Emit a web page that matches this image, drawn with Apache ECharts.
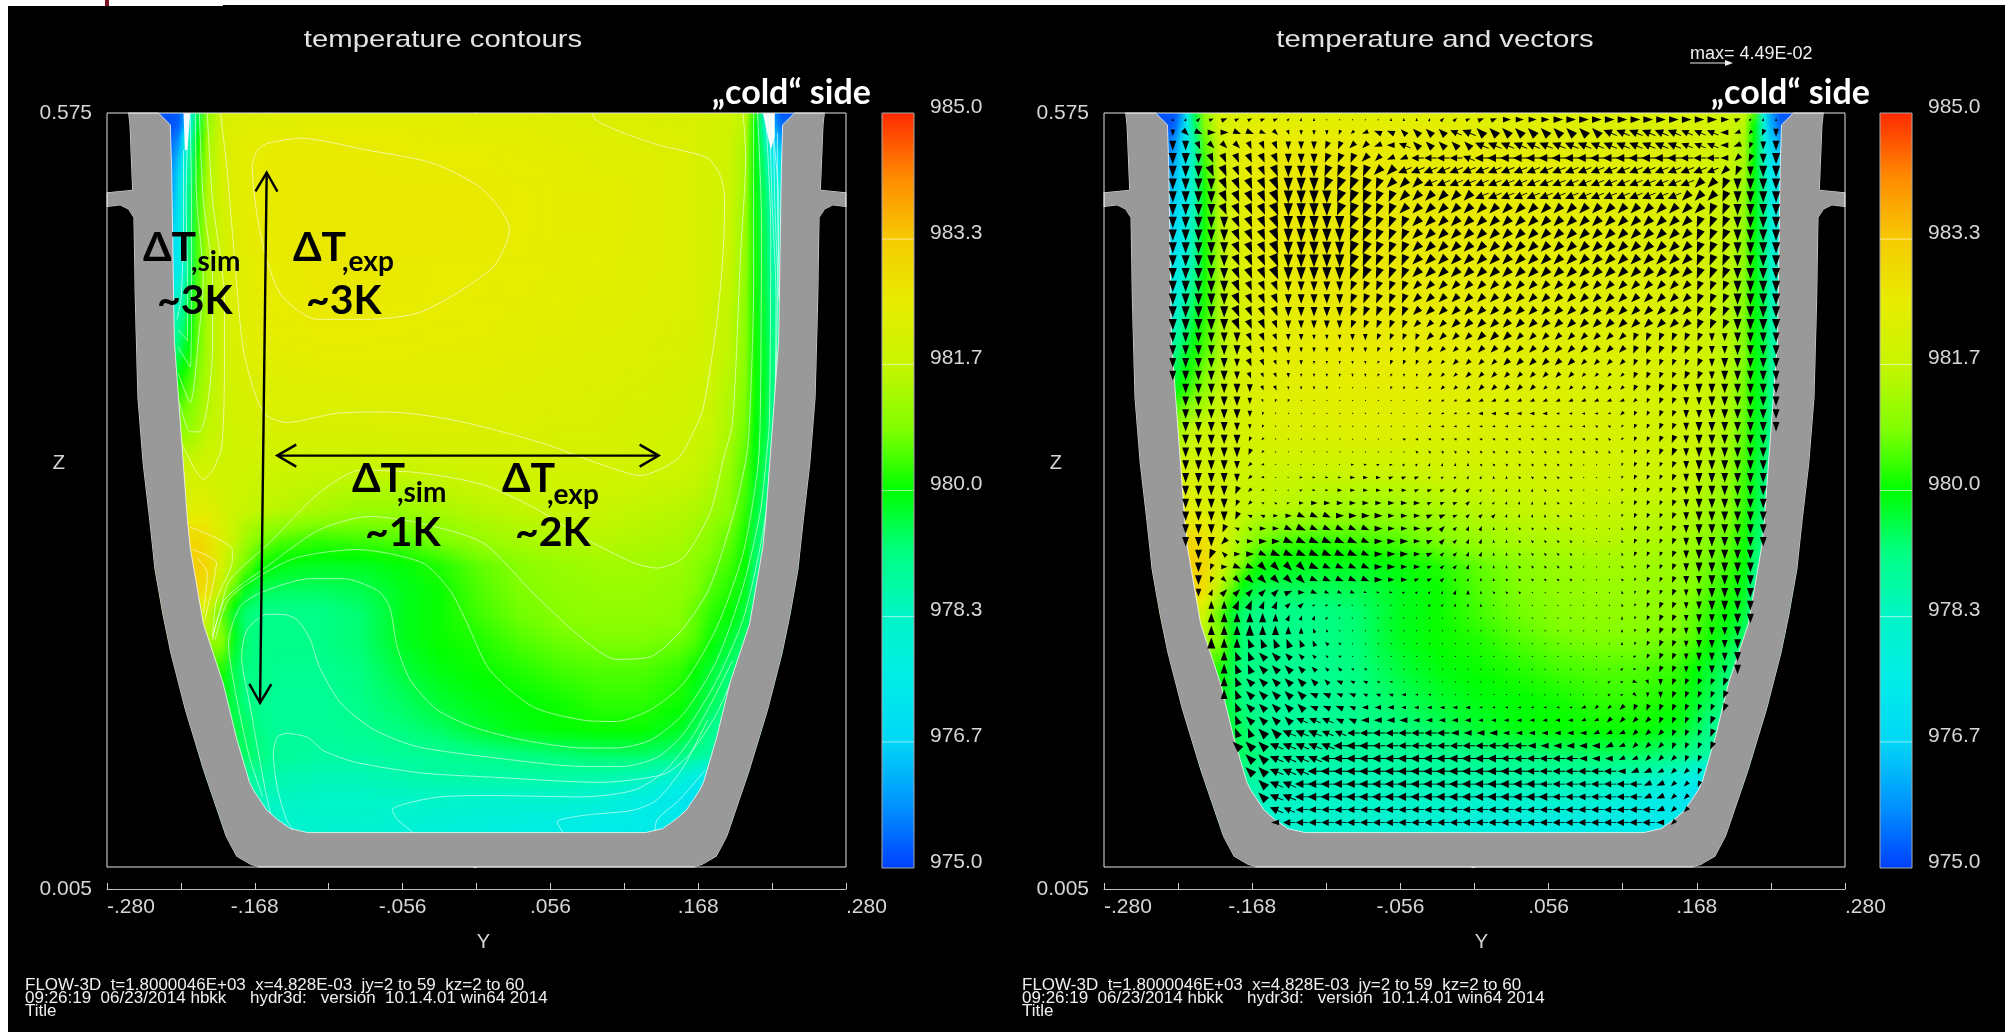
<!DOCTYPE html>
<html><head><meta charset="utf-8"><style>html,body{margin:0;padding:0;background:#fff;overflow:hidden}#c{width:2005px;height:1032px}</style>
<script src="https://cdn.jsdelivr.net/npm/echarts@6/dist/echarts.min.js"></script></head><body><div id="c"></div>
<script>
// colour scale
const barTicks=[975,976.67,978.33,980,981.67,983.33,985];
const tempLevels=[975,975.8,976.7,977.5,978.3,979.2,980,980.8,981.7,982.5,983.3,984.15,985];
const tempColors=['#0040ff','#0090ff','#00d8f5','#00ece8','#00f5c8','#00ff80','#00ff00','#80ff00','#c8f500','#e8ec00','#f6cc00','#ff8a00','#ff2a00'];
// temperature samples (value = T-975) at Y columns and Z rows
const T_BASE=975;
const tempY=[-.231,-.226,-.222,-.217,-.211,-.204,-.193,-.183,-.175,-.164,-.149,-.119,-.088,-.058,-.028,.003,.033,.063,.094,.124,.154,.166,.177,.192,.204,.211,.219,.224,.231];
const tempZ=[.575,.566,.555,.540,.517,.487,.456,.426,.396,.366,.335,.305,.275,.252,.233,.214,.196,.177,.154,.131,.109,.090,.071,.056,.041,.029];
const tempUpperLeft=[
[.2,.3,.8,2.5,4.5,6,7,7.1,7.2,7.2,7.3,7.3,7.3,7.3,7.3,7.3,7.3,7.2,7.2,7.2,7.1,7.1,7,6.9,6.6,5.2,2,1,.2],
[.2,.3,1,3,4.7,6,7,7.2,7.3,7.3,7.3,7.4,7.4,7.4,7.4,7.3,7.3,7.3,7.2,7.2,7.1,7.1,7,6.9,6.5,5,3,1.2,.5],
[.4,.8,2,3.5,5,6.2,7,7.3,7.4,7.4,7.5,7.5,7.5,7.5,7.4,7.4,7.4,7.3,7.3,7.2,7.2,7.1,7,6.8,6.4,5,3.6,2,1],
[.7,1.4,2.6,4,5.2,6.3,7,7.3,7.4,7.5,7.55,7.55,7.55,7.5,7.5,7.5,7.4,7.4,7.3,7.3,7.2,7.1,7,6.8,6.3,5,4,2.6,2],
[1,2,3,4.3,5.4,6.4,7,7.3,7.4,7.5,7.55,7.6,7.6,7.6,7.55,7.55,7.5,7.4,7.4,7.3,7.2,7.1,7,6.8,6.2,5,4.3,3.3,3],
[1.6,2.3,3.2,4.4,5.5,6.4,6.9,7.2,7.4,7.5,7.55,7.6,7.6,7.6,7.6,7.55,7.5,7.4,7.4,7.3,7.2,7.1,7,6.7,6.1,5.1,4.4,3.6,3.4],
[2,2.5,3.3,4.4,5.5,6.3,6.9,7.2,7.35,7.45,7.5,7.6,7.6,7.55,7.5,7.5,7.45,7.4,7.35,7.3,7.2,7.1,7,6.7,6,5.1,4.5,3.8,3.6],
[3.2,3.6,4.1,4.8,5.6,6.3,6.9,7.2,7.3,7.4,7.5,7.55,7.55,7.5,7.5,7.45,7.4,7.35,7.3,7.25,7.15,7.1,6.9,6.6,5.9,5.1,4.6,4,3.8],
[4.1,4.4,4.7,5.1,5.7,6.3,6.8,7.1,7.25,7.35,7.4,7.45,7.45,7.45,7.4,7.4,7.35,7.3,7.25,7.2,7.1,7.05,6.9,6.6,5.9,5.1,4.7,4.2,4],
[5,5.2,5.4,5.6,6,6.4,6.8,7,7.1,7.15,7.2,7.25,7.3,7.3,7.3,7.3,7.25,7.2,7.15,7.1,7,6.9,6.8,6.4,5.8,5.1,4.7,4.2,4],
[5.8,5.9,6,6.1,6.3,6.6,6.8,6.9,7,7,7.1,7.1,7.1,7.15,7.15,7.15,7.15,7.1,7.1,7,6.9,6.8,6.7,6.3,5.7,5,4.6,4,3.8],
[6.5,6.6,6.8,6.9,6.9,6.9,6.85,6.85,6.85,6.8,6.8,6.75,6.7,6.7,6.8,6.9,6.95,6.95,6.95,6.9,6.8,6.7,6.5,6.1,5.5,4.9,4.4,3.8,3.6],
[7.3,7.3,7.3,7.3,7.3,7.3,7,6.8,6.7,6.6,6.5,6.3,6.1,6.1,6.3,6.5,6.6,6.7,6.7,6.6,6.5,6.4,6.2,5.9,5.3,4.7,4.2,3.6,3.4]];
const tempUpperRight=[
[.2,.3,.8,2.5,4.6,6,7,7.1,7.2,7.3,7.3,7.3,7.3,7.3,7.3,7.3,7.3,7.2,7.2,7.2,7.1,7.1,7,6.9,6.7,5.6,2.6,1,.2],
[.2,.4,1.2,2.6,4.4,5.9,7,7.2,7.3,7.4,7.4,7.4,7.4,7.4,7.4,7.3,7.3,7.3,7.2,7.2,7.1,7.1,7,6.9,6.5,5,2.8,1.2,.4],
[.5,.9,1.6,2.5,4,5.6,6.9,7.3,7.4,7.5,7.5,7.5,7.5,7.5,7.4,7.4,7.4,7.3,7.3,7.2,7.2,7.1,7,6.8,6.3,5,2.8,1.6,1],
[.8,1.2,1.8,2.5,3.8,5.4,6.8,7.3,7.4,7.5,7.6,7.6,7.6,7.5,7.5,7.5,7.4,7.4,7.3,7.3,7.2,7.1,7,6.8,6.3,5,3.2,2.2,1.8],
[1.2,1.6,2,2.6,3.6,5.1,6.6,7.2,7.4,7.5,7.6,7.6,7.6,7.6,7.55,7.55,7.5,7.4,7.4,7.3,7.2,7.1,7,6.7,6.1,5,3.8,2.6,2.4],
[1.6,1.9,2.3,2.8,3.8,5.1,6.4,7.1,7.3,7.5,7.6,7.6,7.6,7.6,7.6,7.55,7.5,7.4,7.4,7.3,7.2,7.1,7,6.7,6,5,4.1,3,2.8],
[2.1,2.4,2.8,3.3,4.1,5.1,6.3,7,7.2,7.4,7.5,7.6,7.6,7.6,7.5,7.5,7.45,7.4,7.35,7.3,7.2,7.1,7,6.6,5.9,5,4.3,3.3,3.1],
[2.8,3.1,3.5,4,4.6,5.2,6.3,6.9,7.1,7.3,7.4,7.55,7.6,7.55,7.5,7.45,7.4,7.35,7.3,7.25,7.15,7.05,6.9,6.5,5.8,5,4.5,3.6,3.4],
[3.8,4.1,4.4,4.7,5.1,5.5,6.3,6.8,7.1,7.3,7.4,7.5,7.55,7.5,7.45,7.4,7.35,7.3,7.25,7.2,7.1,7,6.9,6.5,5.8,5,4.6,3.9,3.7],
[4.8,4.9,5.1,5.3,5.6,6,6.6,6.9,7.1,7.2,7.3,7.35,7.4,7.4,7.35,7.3,7.25,7.2,7.15,7.1,7,6.9,6.8,6.4,5.7,5,4.6,4,3.8],
[6,6.1,6.3,6.5,6.7,6.8,6.9,7,7.05,7.1,7.15,7.2,7.25,7.25,7.2,7.15,7.15,7.1,7.1,7,6.9,6.8,6.7,6.3,5.6,4.9,4.5,3.9,3.7],
[6.9,6.9,7,7,7,6.95,6.9,6.9,6.85,6.8,6.8,6.75,6.8,6.8,6.85,6.9,6.95,6.95,6.95,6.9,6.8,6.7,6.5,6.1,5.4,4.8,4.3,3.7,3.5],
[7.5,7.5,7.5,7.4,7.3,7.2,7,6.8,6.7,6.6,6.5,6.3,6.1,6.1,6.3,6.5,6.6,6.7,6.7,6.6,6.5,6.4,6.2,5.9,5.3,4.7,4.2,3.6,3.4]];
const tempLower=[
[8,8,8,8,8,7.8,7.2,6.6,6.2,5.8,5.5,5.3,5.4,5.5,5.8,6.1,6.3,6.4,6.5,6.4,6.3,6.1,5.9,5.6,5.1,4.5,4,3.5,3.3],
[8.2,8.2,8.2,8.2,8.2,8,7,6.3,5.7,5.1,4.9,4.8,4.8,4.95,5.2,5.6,5.9,6.1,6.2,6.2,6.1,5.9,5.7,5.4,5,4.3,3.8,3.3,3.1],
[8,8,8,8,8,7.8,6.5,5.5,4.8,4.5,4.4,4.4,4.5,4.8,5.05,5.5,5.8,6,6.1,6.1,6,5.8,5.5,5.2,4.8,4,3.6,3.1,3],
[7,7,7,7,7,6.8,5.6,4.7,4.3,4.1,4.1,4.1,4.3,4.8,5.05,5.4,5.7,5.9,6,6,5.9,5.6,5.3,5,4.6,3.9,3.5,3,2.9],
[6.3,6.3,6.3,6.3,6.3,6.3,5.9,4.8,4.3,4.1,4.1,4.1,4.3,4.8,5.05,5.2,5.5,5.7,5.8,5.8,5.7,5.5,5.1,4.7,4.3,3.7,3.3,2.9,2.8],
[5.2,5.2,5.2,5.2,5.2,5.2,5.2,4.5,4.2,4.1,4,4,4.2,4.6,4.9,5.05,5.2,5.4,5.5,5.5,5.3,5,4.7,4.3,3.9,3.5,3.1,2.8,2.7],
[4.8,4.8,4.8,4.8,4.8,4.8,4.8,4.5,4.2,4,3.9,3.9,4.1,4.4,4.7,4.9,5,5.1,5.3,5.3,5.1,4.8,4.5,4.1,3.6,3.3,2.9,2.7,2.6],
[4.6,4.6,4.6,4.6,4.6,4.6,4.6,4.6,4.4,4.1,3.9,3.9,4,4.2,4.4,4.7,4.9,5,5.05,5.05,4.8,4.5,4.1,3.7,3.3,3,2.7,2.5,2.4],
[4.4,4.4,4.4,4.4,4.4,4.4,4.4,4.4,4.4,4.2,3.9,3.8,3.8,3.9,4,4.1,4.2,4.3,4.4,4.4,4.2,4,3.8,3.4,3.1,2.8,2.5,2.4,2.3],
[3.9,3.9,3.9,3.9,3.9,3.9,3.9,3.9,3.9,3.8,3.6,3.5,3.5,3.6,3.7,3.7,3.7,3.7,3.6,3.4,2.9,2.5,2.2,2.1,2.1,2.1,2.1,2.1,2.1],
[3.5,3.5,3.5,3.5,3.5,3.5,3.5,3.5,3.5,3.5,3.4,3.3,3.3,3.3,3.3,3.2,3.2,3.2,3,2.7,2.3,2,2,1.9,1.9,1.9,1.9,1.9,1.9],
[3.2,3.2,3.2,3.2,3.2,3.2,3.2,3.2,3.2,3.2,3.2,3.2,3.2,3.1,3,2.9,2.8,2.7,2.6,2.5,2.4,2.2,2,1.7,1.6,1.6,1.6,1.6,1.6],
[3.1,3.1,3.1,3.1,3.1,3.1,3.1,3.1,3.1,3.1,3.1,3.1,3,2.9,2.8,2.7,2.6,2.5,2.4,2.4,2.2,2.1,1.9,1.6,1.5,1.5,1.5,1.5,1.5]];
// crucible half profile (left side), mirrored for the right side
const wallOuter=[[-.264,.575],[-.263,.566],[-.261,.517],[-.280,.515],[-.280,.504],[-.270,.505],[-.264,.502],[-.260,.496],[-.259,.434],[-.257,.360],[-.253,.310],[-.248,.267],[-.244,.230],[-.238,.196],[-.232,.167],[-.221,.124],[-.207,.078],[-.190,.028],[-.182,.013],[-.171,.0065],[-.165,.005]];
const wallInner=[[-.241,.575],[-.232,.566],[-.231,.532],[-.229,.403],[-.219,.267],[-.217,.247],[-.207,.189],[-.192,.144],[-.182,.103],[-.172,.069],[-.169,.063],[-.159,.048],[-.151,.041],[-.141,.034],[-.128,.031]];
// contour lines of the left panel
const contours=[
[[-.159,.552],[-.134,.556],[-.083,.547],[-.033,.537],[.005,.517],[.025,.487],[.012,.458],[-.041,.425],[-.083,.419],[-.121,.419],[-.147,.436],[-.159,.464],[-.166,.496],[-.170,.534],[-.166,.547],[-.159,.552]],
[[-.194,.575],[-.189,.532],[-.182,.449],[-.177,.398],[-.169,.366],[-.160,.347],[-.144,.341],[-.106,.348],[-.068,.349],[-.018,.343],[.048,.326],[.101,.307],[.124,.301],[.152,.313],[.164,.333],[.172,.353],[.182,.416],[.187,.471],[.188,.509],[.185,.527],[.175,.541],[.137,.551],[.106,.562],[.090,.570],[.088,.575]],
[[-.204,.575],[-.200,.509],[-.191,.434],[-.191,.386],[-.193,.323],[-.200,.305],[-.207,.298],[-.213,.305],[-.225,.328]],
[[-.210,.575],[-.207,.509],[-.200,.449],[-.200,.398],[-.204,.353],[-.210,.334],[-.217,.334],[-.225,.356]],
[[-.213,.575],[-.212,.509],[-.207,.449],[-.210,.411],[-.217,.356],[-.226,.378]],
[[-.217,.575],[-.216,.509],[-.216,.449],[-.217,.383],[-.226,.398]],
[[-.219,.562],[-.220,.509],[-.219,.449],[-.219,.403],[-.226,.411]],
[[-.222,.547],[-.222,.487],[-.224,.434],[-.227,.419]],
[[-.200,.180],[-.194,.199],[-.187,.222],[-.157,.250],[-.119,.288],[-.088,.305],[-.043,.303],[.005,.294],[.043,.277],[.081,.254],[.119,.235],[.137,.231],[.157,.239],[.177,.273],[.187,.313],[.194,.341],[.200,.466],[.204,.542],[.202,.575]],
[[-.200,.177],[-.191,.207],[-.159,.232],[-.119,.260],[-.081,.270],[-.043,.265],[.005,.250],[.043,.212],[.081,.177],[.106,.162],[.132,.164],[.157,.186],[.177,.217],[.197,.280],[.205,.318],[.207,.343],[.210,.441],[.210,.575]],
[[-.198,.177],[-.188,.207],[-.166,.224],[-.136,.239],[-.091,.245],[-.041,.235],[-.020,.214],[-.007,.189],[.010,.154],[.043,.126],[.081,.116],[.106,.115],[.132,.124],[.157,.144],[.182,.186],[.202,.242],[.213,.305],[.215,.343],[.216,.492],[.213,.575]],
[[-.162,.058],[-.172,.088],[-.183,.139],[-.188,.174],[-.179,.202],[-.162,.213],[-.126,.223],[-.101,.223],[-.075,.214],[-.066,.202],[-.060,.171],[-.050,.146],[-.030,.124],[-.003,.111],[.035,.101],[.081,.095],[.106,.095],[.132,.101],[.157,.121],[.182,.161],[.202,.217],[.215,.273],[.220,.318],[.222,.343],[.223,.487],[.219,.575]],
[[-.155,.041],[-.160,.063],[-.172,.129],[-.178,.164],[-.174,.184],[-.159,.196],[-.147,.196],[-.136,.192],[-.126,.177],[-.119,.156],[-.103,.129],[-.078,.109],[-.045,.096],[.010,.088],[.081,.081],[.111,.081],[.137,.088],[.157,.106],[.182,.146],[.202,.192],[.215,.247],[.222,.292],[.226,.343],[.229,.509],[.224,.566]],
[[-.136,.029],[-.144,.041],[-.151,.065],[-.154,.091],[-.151,.103],[-.144,.106],[-.128,.103],[-.116,.093],[-.091,.084],[-.041,.076],[.010,.073],[.094,.069],[.119,.071],[.144,.076],[.162,.091],[.182,.121],[.202,.169],[.215,.222],[.225,.292],[.230,.343],[.230,.434]],
[[-.048,.031],[-.060,.041],[-.064,.048],[-.028,.058],[.010,.059],[.081,.058],[.119,.063],[.141,.076],[.162,.101],[.179,.131],[.194,.161]],
[[.067,.029],[.061,.039],[.081,.044],[.119,.048],[.137,.056],[.157,.081],[.175,.116]],
[[.135,.031],[.137,.041],[.154,.056],[.173,.078]],
[[-.217,.262],[-.185,.245],[-.185,.237],[-.197,.207],[-.200,.179]],
[[-.215,.245],[-.197,.235],[-.200,.217],[-.206,.192]],
[[-.212,.239],[-.204,.227],[-.207,.197]],
[[.222,.575],[.224,.509],[.227,.434],[.226,.336]],
[[.225,.575],[.226,.509],[.229,.434]],
[[.228,.560],[.228,.509],[.230,.434]]];
const whiteCells=[[[-.222,.575],[-.217,.575],[-.219,.547],[-.221,.547]],[[.217,.575],[.226,.575],[.226,.557],[.223,.547]]];
const guideArrows=[[-.159,.530,-.164,.129],[-.151,.316,.138,.316]];
// velocity vectors of the right panel: compass letter a=N, b=NNE ... clockwise; magnitude digit; . = no cell
const vecYStart=-.228, vecYStep=.0097, vecZStart=.570, vecZStep=.00966;
const vecDir=[
"abcddddd dcbaaaaa aaaabccd ddeeeeee eeeeeeee eeeedcba",
"igfeefff ghiiijkl nnoooonn oooooooo oonnnnnn nnnmlkji",
"iihggghh hiiijjkk lmnooooo nnnnnnnn nnnnnnnn nnnmljii",
"iiihhhhh hiiijjjk kllmmmmn mmmmmmmm mmmmmmmm mmmmkjii",
"iiihhhhh hiiijjjj kkllllll llllllll llllllll lllkjiii",
"iiiihhhh hiiijjjj jkkkllll llllllll llllllll lkkjiiii",
"iiiihhhh hiiiijjj jjkkkkkk llllllll llllllll kkkjiiii",
"iiiihhhh hiiiijjj jjkkkkkk kkkkkkkk kkkkkkkk kkjjiiii",
"iiiiihhh hiiiiijj jjjkkkkk kkkkkkkk kkkkkkkk kjjjiiii",
"iiiiihhh hiiiiijj jjjkkkkk kkkkkkkk kkkkkkkk kjjjiiii",
"iiiiihhh hiiiiijj jjjkkkkk kkkkkkkk kkkkkkkk kjjjiiii",
"iiiiihhh hiiiiijj jjjkkkkk kkkkkkkk kkkkkkkk kjjjiiii",
"iiiiihhh hiiiiijj jjjkkkkk kkkkkkkk kkkkkkkk kjjjiiii",
"iiiiihhh hiiiiijj jjjkkkkk kkkkkkkk kkkkkkkk kjjjiiii",
"iiiiihhh hiiiiijj jjjkkkkk kkkkkkkk kkkkkkkk kjjjiiii",
"iiiiihhh hiiiiijj jjjkkkkk kkkkkkkk kkkkkkkk kjjjiiii",
"iiiiihhh hiiiiijj jjjkkkkk kkkkkkkk kkkkkkkk kjjjiiii",
"iiiiiihh hiiiiiii jjjjkkkk kkkkkkkk kkkkjjjj jjiiiiii",
"iiiiiihh hiiiiiii jjjjkkkk kkkkkkkk kkkkjjjj jjiiiiii",
"iiiiiihh hiiiiiii jjjjkkkk kkkkkkkk kkkkjjjj jjiiiiii",
"iiiiiihh hiiiiiii jjjjkkkk kkkkkkkk kkkkjjjj jjiiiiii",
".iiiiiih hiiiiijj jjjkkkkk kkkkkkkk kkkkjjjj iiiiiiii",
".iiiiiih jjjjkkkk kkkkllll llllllll llllkjjj iiiiiiii",
".iiiiiij jkkkkkll llllllll mmmmmmmm mmlkjjjj iiiiiiii",
".iiiiiij kkkllmmm mmmmmmmm mmmmmmmm mnnkjjjj iiiiiiii",
".iiiiijk kllmmmnn nnnnnnnn nnnnnnnn nnokjjjj iiiiiii.",
".iiiiijk lmmmnnnn nooooooo oooooooo oopjjjjj iiiiiii.",
".iiiiikl meeeeeee ddccbbaa oooooooo oopjjjjj iiiiiii.",
".iiiiikl meeeeeee edddcccb baaoooon nnpjjjjj iiiiiii.",
".iiiijkl ocdeeeee eeedddcc cbbaaoon nnpjjjjj iiiiiii.",
".iiiijkn odeeeeee eeeedddc ccbbaaoo nnpjjjjj iiiiiii.",
".iiiijnn eefffeee eeeedddc ccbbaaoo nnpjjjjj iiiiiii.",
".iiijnoe efffffff eeeedccb baaooooo onnpjjjj iiiiiii.",
".iiikoee efffffff eeeedccb baaooooo onnpjjjj iiiiiii.",
"..ijoeef ffffffff eeeedccb baaooooo onnpjjjj iiiiii..",
"..ijeffg gggfffff eeeedccb baaooooo oooojjjj iiiiii..",
"..ijgggg gggfffff eeeddcbb aaoooooo oooojjjj iiiiii..",
"..ibcccc cdefffff eedccbba aooooooo ooopjjjj iiiiii..",
"...aabbb bccdddee eeddccbb aaoooooo ooopjjjj iiiiii..",
"...aaaaa abbbccde eedccbba aapooooo oooajjjj iiiiii..",
"...aaaaa aaappooo oooooooo oooooooo oooajjjj iiiii...",
"...aaapp ppppooaa oooooooo oooooooo aaaajjjj iiiii...",
"....appo ooooonnn oooooooo oooooooo aaacdjjj iiiii...",
"....appo oooooonn nnoooooo aaaaaaaa aaccejjj iiiii...",
"....apoo ooooonnn nmmmmmoo aaaaaaaa cccdfhij jjjj....",
"....apoo ooonnnnn nnmmmmmm mllaaabb cccdgiij jjjj....",
".....poo ooonnnnm mmmmmmmm mmmmmmmm lkkkjjjj jjjj....",
".....poo oonnnnnm mmmmmmmm mmmmmmmm llkkkkjj jjj.....",
".....ppo onnnnnmm mmmmmmmm mmmmmmmm mlllkkkj jjj.....",
".....ooo nnnnnmmm mmmmmmmm mmmmmmmm mmllkkkj jjj.....",
"......oo nnnnmmmm mmmmmmmm mmmmmmmm mmmllkkk jj......",
"......oo nnnmmmmm mmmmmmmm mmmmmmmm mmmmlllk kj......",
".......o nnmmmmmm mmmmmmmm mmmmmmmm mmmmmllk kj......",
".......o nnmmmmmm mmmmmmmm mmmmmmmm mmmmmllk k.......",
"........ nnmmmmmm mmmmmmmm mmmmmmmm mmmmmmlk k.......",
"........ mmmmmmmm mmmmmmmm mmmmmmmm mmmmmmmk ........"];
const vecMag=[
"22334333 32221111 12222333 44555566 66666666 66654222",
"45555554 43333334 55566667 77777777 77777777 66654345",
"66555555 55555555 55666666 77777777 77777777 66655456",
"77666666 66666666 55566666 77777777 77777777 66655567",
"77777666 77777777 77777777 77777777 77777777 77666677",
"77777777 88888888 77777777 77777777 77777777 77777777",
"77777777 88888888 77777777 77777777 77777777 77777777",
"77777777 88888888 77777777 77777777 77777777 77777777",
"77777777 88888888 77777777 77777777 77777777 77777777",
"77777777 88888888 77777777 77777777 77777777 77777777",
"77777777 88888888 77777777 77777777 77777777 77777777",
"77777777 88888888 77777777 77777777 77777777 77777777",
"77777777 88888888 77777777 77777777 77777777 77777777",
"77777766 66666666 66666666 66666666 66666666 66667777",
"77777766 66666666 66666666 66666666 66666666 66667777",
"77777766 66666666 66666666 66666666 66666666 66667777",
"77777766 55555555 55555566 66666666 66666666 66667777",
"66666655 44433344 44445555 66655555 55555555 55556666",
"66666654 44333333 33344444 55555555 55555555 55556666",
"66666554 33322222 23333344 44555555 44444444 45566666",
"66666543 33222222 22223334 44444444 33334444 55566666",
".6666653 32222111 12222333 44444333 33334455 56666666",
".6666642 22111111 11112223 33333333 33333344 55666666",
".6666642 11111111 11112222 33333322 22233344 55666666",
".6666532 11110011 11112222 22222222 22223344 56666666",
".6666632 11000011 11222222 22222222 22223345 5666666.",
".6666642 11000011 11122222 22222222 22223345 5666666.",
".6666532 11111122 22222222 22222222 11123334 5666666.",
".6666532 11222233 33332222 22222222 11123334 5666666.",
".6666532 11222333 33333333 22222222 11123334 5666666.",
".6666432 22344444 44443333 22222222 11123334 5666666.",
".6666533 34555555 54444433 33222222 11123334 5666666.",
".6665334 45655555 54444433 32222222 11123334 5666666.",
".6665345 56666665 55544433 32222222 11123334 5666666.",
"..664455 66666665 55544333 32222222 11123334 566666..",
"..644556 66665555 55443333 22222222 11122334 566666..",
"..644566 66655555 54433322 22222222 11122334 556666..",
"..545555 55443332 22222233 22221111 11122334 456666..",
"...55665 54422211 11112222 21111111 11122344 456666..",
"...66666 54332111 11111111 11111111 11122344 455566..",
"...66676 65432111 00011111 11111111 11122344 45556...",
"...76666 66543211 00000111 11111111 01122344 45556...",
"....6666 65432211 00000000 11111111 00112344 45556...",
"....6666 66543322 11000000 00000000 11122344 44556...",
"....6666 66654433 22110000 00000000 11223344 4445....",
"....6666 66655443 33322111 10000000 11223344 4445....",
".....666 66655544 44333333 22222222 33344444 4445....",
".....666 66666555 55544444 33333333 33444444 445.....",
".....667 77776666 66666655 55444444 44444444 445.....",
".....777 77777777 66666666 66665555 55544444 445.....",
"......77 77777777 77777777 77666666 55544444 44......",
"......77 77777777 77777777 77776666 66655544 44......",
".......7 77777777 77777777 77777666 66666554 44......",
".......7 77777777 77777777 77777766 66666554 4.......",
"........ 76666666 66666666 66666666 66666654 4.......",
"........ 56666666 66666666 66666666 66666654 ........"];
const xTickLabels={'-280':'-.280','-168':'-.168','-56':'-.056','56':'.056','168':'.168','280':'.280'};
const zTicks=[.005,.29,.575];
const footer1='FLOW-3D  t=1.8000046E+03  x=4.828E-03  jy=2 to 59  kz=2 to 60';
const footer2='09:26:19  06/23/2014 hbkk     hydr3d:   version  10.1.4.01 win64 2014';

const rgb=tempColors.map(c=>[parseInt(c.slice(1,3),16),parseInt(c.slice(3,5),16),parseInt(c.slice(5,7),16)]);
function colorOf(t){
  if(t<=tempLevels[0])return tempColors[0];
  for(let i=1;i<tempLevels.length;i++){ if(t<=tempLevels[i]){
    const f=(t-tempLevels[i-1])/(tempLevels[i]-tempLevels[i-1]),a=rgb[i-1],b=rgb[i];
    return 'rgb('+a.map((v,k)=>Math.round(v+(b[k]-v)*f)).join(',')+')';}}
  return tempColors[tempColors.length-1];
}
const mirror=p=>[-p[0],p[1]];
const wallPolygon=[...wallOuter,...wallOuter.map(mirror).reverse(),...wallInner.map(mirror),...wallInner.slice().reverse()];
const outsideLeft=[[-.28,.575],...wallOuter,[-.28,.005]];
const outsideRight=outsideLeft.map(mirror);
const Ymin=-.245,Ymax=.245;
function polySeries(g,list,z,style){return{type:'custom',coordinateSystem:'cartesian2d',xAxisIndex:g,yAxisIndex:g,z,silent:true,animation:false,
  data:list.map((p,i)=>[p[0][0],p[0][1],i]),
  renderItem:(pr,api)=>({type:'polygon',shape:{points:list[api.value(2)].map(q=>api.coord(q))},style})};}
function fieldSeries(g,rows){return{type:'custom',coordinateSystem:'cartesian2d',xAxisIndex:g,yAxisIndex:g,z:1,silent:true,animation:false,
  data:tempZ.slice(0,-1).map((z,i)=>[0,z,i]),
  renderItem:(pr,api)=>{
    const r=api.value(2),a=api.coord([Ymin,tempZ[r]]),b=api.coord([Ymax,tempZ[r+1]]),h=b[1]-a[1],n=Math.max(1,Math.ceil(h/3)),children=[];
    for(let s=0;s<n;s++){const t=(s+.5)/n,y0=Math.round(a[1]+h*s/n),y1=Math.round(a[1]+h*(s+1)/n);
      const stops=tempY.map((y,c)=>({offset:(y-Ymin)/(Ymax-Ymin),color:colorOf(T_BASE+rows[r][c]*(1-t)+rows[r+1][c]*t)}));
      children.push({type:'rect',shape:{x:a[0],y:y0,width:b[0]-a[0],height:y1-y0},style:{fill:new echarts.graphic.LinearGradient(0,0,1,0,stops)}});}
    return{type:'group',children};}};}
function frameSeries(g){return{type:'custom',coordinateSystem:'cartesian2d',xAxisIndex:g,yAxisIndex:g,z:7,silent:true,animation:false,data:[[-.28,.575]],
  renderItem:(pr,api)=>{const a=api.coord([-.28,.575]),b=api.coord([.28,.005]);
    return{type:'rect',shape:{x:a[0],y:a[1],width:b[0]-a[0],height:b[1]-a[1]},style:{fill:'none',stroke:'#e6e6e6',lineWidth:1}};}};}
function barSeries(g){return{type:'custom',coordinateSystem:'cartesian2d',xAxisIndex:g,yAxisIndex:g,z:2,silent:true,animation:false,data:[[0,985]],
  renderItem:(pr,api)=>{const a=api.coord([0,985]),b=api.coord([1,975]);
    const stops=tempLevels.map((l,i)=>({offset:(985-l)/10,color:tempColors[i]})).reverse();
    const children=[{type:'rect',shape:{x:a[0],y:a[1],width:b[0]-a[0],height:b[1]-a[1]},style:{fill:new echarts.graphic.LinearGradient(0,0,0,1,stops),stroke:'#a8a8a8',lineWidth:1}}];
    barTicks.slice(1,-1).forEach(t=>{const p=api.coord([0,t]);children.push({type:'line',shape:{x1:a[0],y1:p[1],x2:b[0],y2:p[1]},style:{stroke:'rgba(255,255,255,.55)',lineWidth:1}});});
    return{type:'group',children};}};}
const contourSeries=contours.map(c=>({type:'line',xAxisIndex:0,yAxisIndex:0,data:c,smooth:.25,symbol:'none',z:2,silent:true,animation:false,lineStyle:{color:'rgba(255,255,255,.58)',width:1}}));
const guideSeries={type:'custom',coordinateSystem:'cartesian2d',xAxisIndex:0,yAxisIndex:0,z:8,silent:true,animation:false,
  data:guideArrows.map((a,i)=>[a[0],a[1],i]),
  renderItem:(pr,api)=>{const g=guideArrows[api.value(2)],p=api.coord([g[0],g[1]]),q=api.coord([g[2],g[3]]);
    const len=Math.hypot(q[0]-p[0],q[1]-p[1]),ux=(q[0]-p[0])/len,uy=(q[1]-p[1])/len,st={stroke:'#000',lineWidth:2.4,fill:'none'};
    const head=(t,sx,sy)=>({type:'polyline',shape:{points:[[t[0]+sx*19-uy*11,t[1]+sy*19+ux*11],t,[t[0]+sx*19+uy*11,t[1]+sy*19-ux*11]]},style:st});
    return{type:'group',children:[{type:'line',shape:{x1:p[0],y1:p[1],x2:q[0],y2:q[1]},style:st},head(p,ux,uy),head(q,-ux,-uy)]};}};
const vecData=[];
vecDir.forEach((row,j)=>{const d=row.replace(/ /g,''),m=vecMag[j].replace(/ /g,'');
  for(let k=0;k<d.length;k++){ if(d[k]==='.')continue;
    vecData.push([vecYStart+k*vecYStep,vecZStart-j*vecZStep,d.charCodeAt(k)-97,+m[k]]);}});
const vecSeries={type:'custom',coordinateSystem:'cartesian2d',xAxisIndex:1,yAxisIndex:1,z:5,silent:true,animation:false,data:vecData,
  renderItem:(pr,api)=>{const c=api.coord([api.value(0),api.value(1)]),dir=api.value(2),ang=dir*Math.PI/8,m=api.value(3);
    const dx=Math.sin(ang),dy=-Math.cos(ang),L=Math.max(1.6,m*1.6),hw=Math.max(.7,L*.36),tail=.45;
    const pt=(f,s)=>[c[0]+dx*L*f-dy*s,c[1]+dy*L*f+dx*s];
    const shafted=m>=6&&(dir===12||dir===13||dir===11);
    const points=shafted?[pt(.55,0),pt(-.2,hw),pt(-.2,tail),pt(-.75,tail),pt(-.75,-tail),pt(-.2,-tail),pt(-.2,-hw)]:[pt(.55,0),pt(-.45,hw),pt(-.45,-hw)];
    return{type:'polygon',shape:{points},style:{fill:'#000'}};}};
const labelStyle={color:'#d6d6d6',fontFamily:'Liberation Sans',fontSize:21};
function xAxis(g){return{gridIndex:g,type:'value',min:-.28,max:.28,interval:.056,position:'bottom',offset:22,
  name:'Y',nameLocation:'middle',nameGap:43,nameTextStyle:{...labelStyle,fontSize:20,padding:[0,0,0,14]},
  axisLine:{lineStyle:{color:'#bdbdbd',width:1}},axisTick:{length:6,inside:true,lineStyle:{color:'#d0d0d0'}},splitLine:{show:false},
  axisLabel:{...labelStyle,margin:8,alignMinLabel:'left',alignMaxLabel:'left',showMinLabel:true,showMaxLabel:true,hideOverlap:false,formatter:v=>xTickLabels[String(Math.round(v*1000))]||''}};}
function zAxis(g){return{gridIndex:g,type:'value',min:.005,max:.575,position:'left',offset:14,
  name:'{z|Z}',nameLocation:'middle',nameRotate:0,nameGap:28,nameMoveOverlap:false,nameTextStyle:{rich:{z:{...labelStyle,fontSize:20,padding:[0,0,54,0]}}},
  axisLine:{lineStyle:{color:'#d8d8d8',width:1}},axisTick:{length:3,customValues:zTicks,lineStyle:{color:'#d8d8d8'}},splitLine:{show:false},
  axisLabel:{...labelStyle,margin:1,customValues:zTicks,showMinLabel:true,showMaxLabel:true,hideOverlap:false,
    formatter:v=>v>.5?'0.575':(v<.01?'{low|0.005}':''),rich:{low:{...labelStyle,padding:[44,0,0,0]}}}};}
function barX(g){return{gridIndex:g,type:'value',min:0,max:1,show:false};}
function barY(g){return{gridIndex:g,type:'value',min:975,max:985,position:'right',axisLine:{show:false},axisTick:{show:false},splitLine:{show:false},
  axisLabel:{...labelStyle,margin:16,customValues:barTicks,showMinLabel:true,showMaxLabel:true,hideOverlap:false,formatter:v=>'{a|'+v.toFixed(1)+'}',rich:{a:{...labelStyle,padding:[0,0,12,0]}}}};}
const white=(x,y,text,size,extra)=>({type:'text',x,y,z:20,silent:true,style:{text,fill:'#f0f0f0',font:`${size}px "Liberation Sans"`,textVerticalAlign:'middle',...extra}});
const bold=(x,y,text,size,fill)=>({type:'text',x,y,z:20,silent:true,style:{text,fill:fill||'#000',font:`bold ${size}px Lato, "Noto Sans"`,textVerticalAlign:'middle'}});
const noteList=[[143,248,'ΔT',41],[191,262,',sim',28],[157,301,'~3K',41],[293,248,'ΔT',41],[342,262,',exp',28],[306,301,'~3K',41],
  [352,479,'ΔT',41],[397,493,',sim',28],[365,533,'~1K',41],[502,479,'ΔT',41],[547,495,',exp',28],[515,533,'~2K',41]];
const option={backgroundColor:'#fff',animation:false,
 grid:[{left:107,top:113,width:739,height:754},{left:1104,top:113,width:741,height:754},{left:882,top:113,width:32,height:755},{left:1880,top:113,width:32,height:755}],
 xAxis:[xAxis(0),xAxis(1),barX(2),barX(3)],
 yAxis:[zAxis(0),zAxis(1),barY(2),barY(3)],
 series:[fieldSeries(0,[...tempUpperLeft,...tempLower]),fieldSeries(1,[...tempUpperRight,...tempLower]),
  polySeries(0,whiteCells,2,{fill:'#f4fbfb'}),...contourSeries,
  polySeries(0,[wallPolygon],3,{fill:'#999',stroke:'rgba(255,255,255,.75)',lineWidth:1}),polySeries(1,[wallPolygon],3,{fill:'#999',stroke:'rgba(255,255,255,.75)',lineWidth:1}),
  polySeries(0,[outsideLeft,outsideRight],4,{fill:'#000'}),polySeries(1,[outsideLeft,outsideRight],4,{fill:'#000'}),
  frameSeries(0),frameSeries(1),barSeries(2),barSeries(3),vecSeries,guideSeries],
 graphic:[
  {type:'rect',z:-10,silent:true,shape:{x:8,y:6,width:2000,height:1030},style:{fill:'#000'}},
  {type:'rect',z:-10,silent:true,shape:{x:223,y:5,width:1790,height:3},style:{fill:'#000'}},
  {type:'rect',z:-10,silent:true,shape:{x:105,y:0,width:4,height:6},style:{fill:'#7a1020'}},
  {type:'text',x:443,y:40,scaleX:1.22,z:20,silent:true,style:{text:'temperature contours',fill:'#e4e4e4',font:'24px "Liberation Sans"',textAlign:'center',textVerticalAlign:'middle'}},
  {type:'text',x:1435,y:40,scaleX:1.22,z:20,silent:true,style:{text:'temperature and vectors',fill:'#e4e4e4',font:'24px "Liberation Sans"',textAlign:'center',textVerticalAlign:'middle'}},
  white(1690,54,'max= 4.49E-02',18),
  {type:'line',z:20,silent:true,shape:{x1:1690,y1:63,x2:1726,y2:63},style:{stroke:'#eee',lineWidth:1}},
  {type:'polygon',z:20,silent:true,shape:{points:[[1733,63],[1725,60],[1725,66]]},style:{fill:'#eee'}},
  bold(712,93,'„cold“ side',34,'#fff'),bold(1711,93,'„cold“ side',34,'#fff'),
  ...noteList.map(n=>bold(n[0],n[1],n[2],n[3])),
  white(25,985,footer1,17),white(25,998,footer2,17),white(25,1011,'Title',17),
  white(1022,985,footer1,17),white(1022,998,footer2,17),white(1022,1011,'Title',17)
 ]};
echarts.init(document.getElementById('c'),null,{renderer:'canvas'}).setOption(option);
</script></body></html>
